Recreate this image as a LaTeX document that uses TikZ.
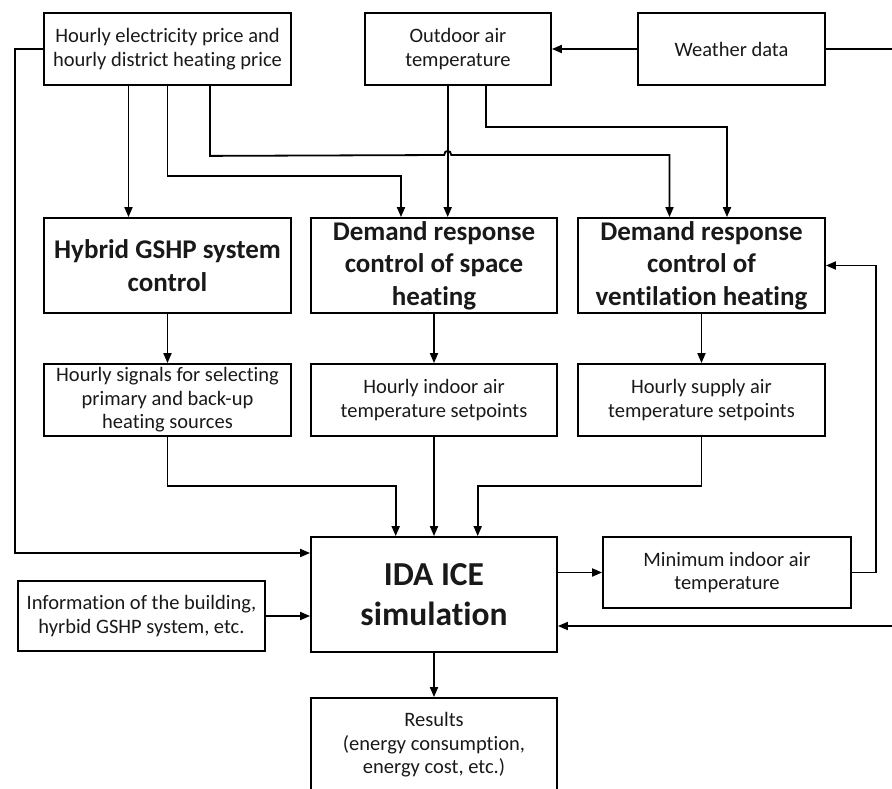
\documentclass[tikz,border=0pt]{standalone}
\usepackage{fontspec}
\setmainfont{Carlito}[Ligatures=NoCommon]
\usetikzlibrary{arrows.meta}
\begin{document}
\begin{tikzpicture}[x=1pt,y=-1pt,
  box/.style={draw, line width=1.8pt, inner sep=0pt, align=center, text=black!90,
    font=\fontsize{20.5}{23.5}\selectfont},
  bbox/.style={box, font=\fontsize{27}{32.5}\selectfont\bfseries},
  ln/.style={line width=1.8pt},
  arr/.style={ln, -{Triangle[length=10pt,width=8pt]}}]
\useasboundingbox (0,0) rectangle (892,789);
\clip (0,0) rectangle (892,789);
% top row
\node[box, minimum width=247, minimum height=72] (b1) at (167.5,49) {Hourly electricity price and\\hourly district heating price};
\node[box, minimum width=186, minimum height=72] (out) at (458,49) {Outdoor air\\temperature};
\node[box, minimum width=187, minimum height=72] (wx) at (731.5,49) {Weather data};
% middle row
\node[bbox, minimum width=247, minimum height=95] (hyb) at (167.5,265.5) {Hybrid GSHP system\\control};
\node[bbox, minimum width=246, minimum height=95] (dsh) at (434,265.5) {Demand response\\control of space\\heating};
\node[bbox, minimum width=247, minimum height=95] (dvh) at (701.5,265.5) {Demand response\\control of\\ventilation heating};
% signal row
\node[box, minimum width=247, minimum height=72] (sig) at (167.5,400) {Hourly signals for selecting\\primary and back-up\\heating sources};
\node[box, minimum width=246, minimum height=72] (ins) at (434,400) {Hourly indoor air\\temperature setpoints};
\node[box, minimum width=247, minimum height=72] (sup) at (701.5,400) {Hourly supply air\\temperature setpoints};
% simulation row
\node[box, minimum width=246, minimum height=115, font=\fontsize{33.5}{40}\selectfont\bfseries] (ida) at (434,594.5) {IDA ICE\\simulation};
\node[box, minimum width=248, minimum height=71] (mia) at (727,572.5) {Minimum indoor air\\temperature};
\node[box, minimum width=247, minimum height=70] (info) at (141.5,616) {Information of the building,\\hyrbid GSHP system, etc.};
\node[box, minimum width=246, minimum height=94] (res) at (434,745) {Results\\(energy consumption,\\energy cost, etc.)};
% free ends
\coordinate (wxr) at (894,49);
\coordinate (idr) at (894,626);
\coordinate (lft) at (15,553);
% top connectors
\draw[arr] (wx.west) -- (out.east);
\draw[ln] (wx.east) -- (wxr);
\draw[arr] (b1.west) -- (lft |- b1.west) -- (lft) -- (lft -| ida.west);
\draw[arr] ([xshift=-39pt]b1.south) -- ([xshift=-39pt]hyb.north);
\draw[arr] (b1.south) -- ++(0,90) -| ([xshift=-33pt]dsh.north);
\draw[arr] ([xshift=42.5pt]b1.south) -- ++(0,70) -- (444.2,155)
  .. controls (444.2,149.5) and (451.2,149.5) .. (451.2,155) -- (669.5,155) -- ([xshift=-32pt]dvh.north);
\draw[arr] ([xshift=-10.3pt]out.south) coordinate (o1) -- (o1 |- dsh.north);
\draw[arr] ([xshift=28pt]out.south) -- ++(0,41) -| ([xshift=25.5pt]dvh.north);
% middle to signals
\draw[arr] (hyb.south) -- (sig.north);
\draw[arr] (dsh.south) -- (ins.north);
\draw[arr] (dvh.south) -- (sup.north);
% signals to IDA
\draw[arr] (sig.south) -- ++(0,49) -| ([xshift=-38.3pt]ida.north);
\draw[arr] (ins.south) -- (ida.north);
\draw[arr] (sup.south) -- ++(0,49) -| ([xshift=43.7pt]ida.north);
% IDA connections
\draw[arr] (info.east) -- (info.east -| ida.west);
\draw[arr] (mia.west -| ida.east) -- (mia.west);
\draw[arr] (mia.east) -- ++(24,0) |- (dvh.east);
\draw[arr] (idr) -- (idr -| ida.east);
\draw[arr] (ida.south) -- (res.north);
\end{tikzpicture}
\end{document}
